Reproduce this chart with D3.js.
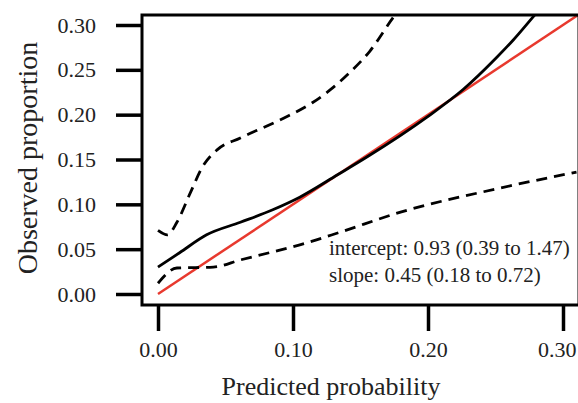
<!DOCTYPE html>
<html>
<head>
<meta charset="utf-8">
<script src="https://cdn.jsdelivr.net/npm/d3@7"></script>
<style>
  body { margin: 0; background: #fff; }
  text { font-family: "Liberation Serif", "DejaVu Serif", serif; fill: #222; }
</style>
</head>
<body>
<svg id="chart" width="578" height="403"></svg>
<script>
// ticks
const xTicks = [0, 0.10, 0.20, 0.30]
const yTicks = [0, 0.05, 0.10, 0.15, 0.20, 0.25, 0.30]

// calibration curve: [predicted, observed]
const calCurve = [[0, .030], [.016, .046], [.036, .066], [.061, .080], [.085, .094], [.105, .108],
    [.133, .133], [.155, .153], [.199, .197], [.226, .228], [.251, .264], [.263, .283], [.279, .311], [.29, .33]]
const upperCI = [[0, .071], [.007, .066], [.014, .080], [.024, .113], [.033, .142], [.044, .161],
    [.061, .174], [.093, .196], [.114, .213], [.127, .227], [.142, .247], [.157, .271], [.174, .308], [.18, .32]]
const lowerCI = [[0, .012], [.014, .029], [.041, .030], [.061, .038], [.085, .047], [.110, .057],
    [.135, .069], [.179, .091], [.253, .118], [.31, .136]]
const ideal = [[0, 0], [0.32, 0.32]]

const statLines = ['intercept: 0.93 (0.39 to 1.47)', 'slope: 0.45 (0.18 to 0.72)']

const BOX = {left: 142, top: 15, right: 579, bottom: 305}
const SERIF = '"Liberation Serif", "DejaVu Serif", serif'

let svg = d3.select('#chart')

let x = d3.scaleLinear().domain([0, 0.30]).range([158, 563])
let y = d3.scaleLinear().domain([0, 0.30]).range([294, 25])

svg.append('clipPath')
    .attr('id', 'box')
    .append('rect')
    .attr('x', BOX.left).attr('y', BOX.top)
    .attr('width', BOX.right - BOX.left).attr('height', BOX.bottom - BOX.top)

let line = d3.line()
    .x(d => x(d[0]))
    .y(d => y(d[1]))
    .curve(d3.curveMonotoneX)

let plot = svg.append('g').attr('clip-path', 'url(#box)')

plot.append('path')
    .attr('d', line(ideal))
    .attr('fill', 'none')
    .attr('stroke', '#e8392e')
    .attr('stroke-width', 2.5)

plot.append('path')
    .attr('d', line(calCurve))
    .attr('fill', 'none')
    .attr('stroke', '#000')
    .attr('stroke-width', 2.8)

plot.selectAll('.ci')
    .data([upperCI, lowerCI])
    .enter().append('path')
    .attr('class', 'ci')
    .attr('d', d => line(d))
    .attr('fill', 'none')
    .attr('stroke', '#000')
    .attr('stroke-width', 2.8)
    .attr('stroke-dasharray', '11,7')

// frame
svg.append('rect')
    .attr('x', BOX.left).attr('y', BOX.top)
    .attr('width', BOX.right - BOX.left).attr('height', BOX.bottom - BOX.top)
    .attr('fill', 'none')
    .attr('stroke', '#000')
    .attr('stroke-width', 3)

// y axis
let yAxis = d3.axisLeft(y).tickValues(yTicks).tickFormat(d3.format('.2f')).tickSize(26).tickPadding(20)
let yg = svg.append('g')
    .attr('transform', 'translate(' + BOX.left + ',0)')
    .call(yAxis)
    .attr('font-family', SERIF)
    .attr('font-size', 22)
yg.select('.domain').remove()
yg.selectAll('.tick line').attr('stroke', '#000').attr('stroke-width', 3.5)
yg.selectAll('.tick text').attr('fill', '#222')

// x axis
let xAxis = d3.axisBottom(x).tickValues(xTicks).tickFormat(d3.format('.2f')).tickSize(26).tickPadding(0)
let xg = svg.append('g')
    .attr('transform', 'translate(0,' + BOX.bottom + ')')
    .call(xAxis)
    .attr('font-family', SERIF)
    .attr('font-size', 22)
xg.select('.domain').remove()
xg.selectAll('.tick line').attr('stroke', '#000').attr('stroke-width', 3.5)
xg.selectAll('.tick text')
    .attr('dy', null)
    .attr('y', 52)
    .attr('fill', '#222')
// the last label is pulled inside the page, like the original
xg.selectAll('.tick text')
    .filter(d => d === xTicks[xTicks.length - 1])
    .attr('text-anchor', 'end')
    .attr('x', 576 - x(xTicks[xTicks.length - 1]))

// titles
svg.append('text')
    .attr('x', 331).attr('y', 395)
    .attr('text-anchor', 'middle')
    .style('font-size', '26px')
    .text('Predicted probability')

svg.append('text')
    .attr('transform', 'translate(37,158) rotate(-90)')
    .attr('text-anchor', 'middle')
    .style('font-size', '28px')
    .text('Observed proportion')

svg.selectAll('.stat')
    .data(statLines)
    .enter().append('text')
    .attr('class', 'stat')
    .attr('x', 329)
    .attr('y', (d, i) => 255 + i * 27)
    .style('font-size', '21px')
    .text(d => d)
</script>
</body>
</html>
